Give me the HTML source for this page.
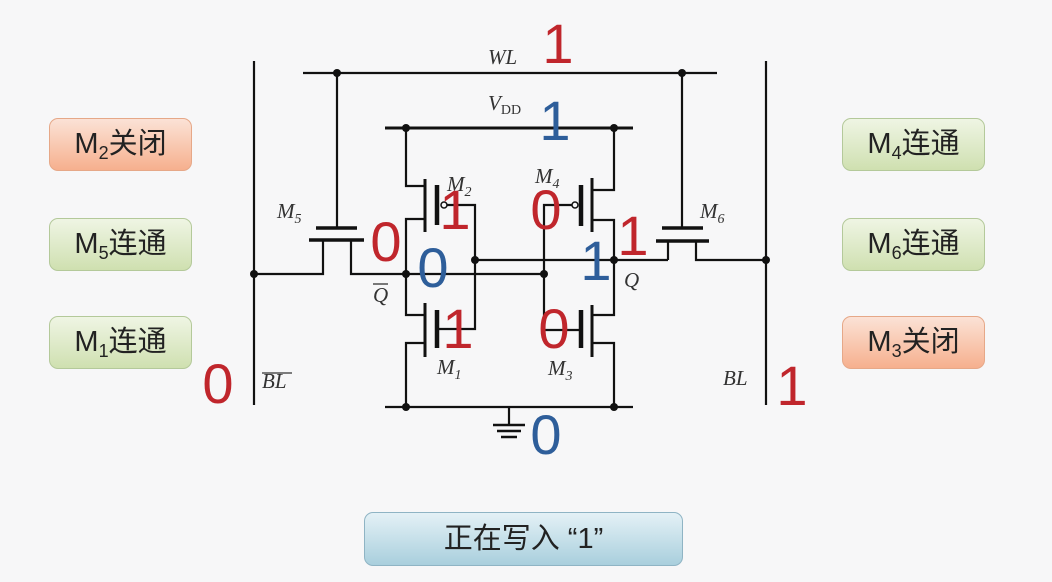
<!DOCTYPE html>
<html><head><meta charset="utf-8"><style>
html,body{margin:0;padding:0;background:#f7f7f8;}
body{width:1052px;height:582px;position:relative;overflow:hidden;font-family:"Liberation Sans","Noto Sans CJK SC",sans-serif;}
.b{position:absolute;width:143px;height:53px;border-radius:9px;box-sizing:border-box;font-size:29px;line-height:51px;text-align:center;color:#222;}
.g{background:linear-gradient(#eff5e4,#cfe0b0);border:1px solid #b4c99a;}
.o{background:linear-gradient(#fbe2d6,#f6b08e);border:1px solid #e6a888;}
.b sub{font-size:18px;vertical-align:-6px;}
.btn{position:absolute;left:364px;top:512px;width:319px;height:54px;border-radius:9px;box-sizing:border-box;border:1px solid #8fb4c4;background:linear-gradient(#e4f1f6,#a9cfdd);font-size:29px;line-height:52px;text-align:center;color:#222;}
svg{position:absolute;left:0;top:0;}
</style></head><body>
<svg width="1052" height="582" viewBox="0 0 1052 582">
<g stroke="#111" stroke-width="2.2" fill="none">
<line x1="254" y1="61" x2="254" y2="405"/>
<line x1="766" y1="61" x2="766" y2="405"/>
<line x1="303" y1="73" x2="717" y2="73"/>
<line x1="385" y1="128" x2="633" y2="128" stroke-width="3"/>
<line x1="385" y1="407" x2="633" y2="407"/>
<line x1="337" y1="73" x2="337" y2="228"/>
<line x1="316" y1="228" x2="357" y2="228" stroke-width="3.5"/>
<line x1="309" y1="240" x2="364" y2="240" stroke-width="3.5"/>
<polyline points="254,274 323,274 323,240"/>
<polyline points="351,240 351,274 544,274"/>
<polyline points="406,128 406,186 425,186"/>
<polyline points="425,219 406,219 406,315 425,315"/>
<polyline points="425,343 406,343 406,407"/>
<line x1="425" y1="179" x2="425" y2="232" stroke-width="3"/>
<line x1="425" y1="303" x2="425" y2="357" stroke-width="3"/>
<line x1="437" y1="185" x2="437" y2="225" stroke-width="4.5"/>
<line x1="437" y1="310" x2="437" y2="348" stroke-width="4.5"/>
<circle cx="444" cy="205" r="3" stroke-width="1.5"/>
<polyline points="447,205 475,205 475,329 439,329"/>
<line x1="475" y1="260" x2="668" y2="260"/>
<polyline points="614,128 614,190 592,190"/>
<polyline points="592,220 614,220 614,315 592,315"/>
<polyline points="592,343 614,343 614,407"/>
<line x1="592" y1="178" x2="592" y2="232" stroke-width="3"/>
<line x1="592" y1="305" x2="592" y2="357" stroke-width="3"/>
<line x1="581" y1="185" x2="581" y2="226" stroke-width="4.5"/>
<line x1="581" y1="310" x2="581" y2="348" stroke-width="4.5"/>
<circle cx="575" cy="205" r="3" stroke-width="1.5"/>
<polyline points="572,205 544,205 544,330 579,330"/>
<line x1="682" y1="73" x2="682" y2="228"/>
<line x1="662" y1="228" x2="703" y2="228" stroke-width="3.5"/>
<line x1="656" y1="241" x2="709" y2="241" stroke-width="3.5"/>
<polyline points="668,260 668,241"/>
<polyline points="696,241 696,260 766,260"/>
<line x1="509" y1="407" x2="509" y2="425"/>
<line x1="493" y1="425" x2="525" y2="425" stroke-width="2.5"/>
<line x1="497" y1="431" x2="521" y2="431" stroke-width="2.5"/>
<line x1="501" y1="437" x2="517" y2="437" stroke-width="2.5"/>
</g>
<g fill="#111">
<circle cx="337" cy="73" r="4"/><circle cx="682" cy="73" r="4"/>
<circle cx="406" cy="128" r="4"/><circle cx="614" cy="128" r="4"/>
<circle cx="406" cy="407" r="4"/><circle cx="614" cy="407" r="4"/>
<circle cx="254" cy="274" r="4"/><circle cx="766" cy="260" r="4"/>
<circle cx="406" cy="274" r="4"/><circle cx="614" cy="260" r="4"/>
<circle cx="475" cy="260" r="4"/><circle cx="544" cy="274" r="4"/>
</g>
<g font-family="Liberation Serif, serif" font-style="italic" font-size="21" fill="#333">
<text x="488" y="64">WL</text>
<text x="488" y="110">V<tspan font-size="14" font-style="normal" dy="4">DD</tspan></text>
<text x="277" y="218">M<tspan font-size="14" dy="5">5</tspan></text>
<text x="447" y="191">M<tspan font-size="14" dy="5">2</tspan></text>
<text x="535" y="183">M<tspan font-size="14" dy="5">4</tspan></text>
<text x="700" y="218">M<tspan font-size="14" dy="5">6</tspan></text>
<text x="437" y="374">M<tspan font-size="14" dy="5">1</tspan></text>
<text x="548" y="375">M<tspan font-size="14" dy="5">3</tspan></text>
<text x="373" y="302">Q</text>
<line x1="373" y1="284" x2="388" y2="284" stroke="#333" stroke-width="1.3"/>
<text x="624" y="287">Q</text>
<text x="262" y="388">BL</text>
<line x1="262" y1="373" x2="292" y2="373" stroke="#333" stroke-width="1.3"/>
<text x="723" y="385">BL</text>
</g>
<g font-family="Liberation Sans, sans-serif" font-size="56" text-anchor="middle">
<g fill="#c0262c">
<text x="558" y="63">1</text>
<text x="386" y="261">0</text>
<text x="455" y="229">1</text>
<text x="458" y="348">1</text>
<text x="546" y="229">0</text>
<text x="554" y="348">0</text>
<text x="633" y="255">1</text>
<text x="218" y="403">0</text>
<text x="792" y="405">1</text>
</g>
<g fill="#2e5e9a">
<text x="555" y="140">1</text>
<text x="433" y="287">0</text>
<text x="596" y="280">1</text>
<text x="546" y="454">0</text>
</g>
</g>
</svg>
<div class="b o" style="left:49px;top:118px">M<sub>2</sub>关闭</div>
<div class="b g" style="left:49px;top:218px">M<sub>5</sub>连通</div>
<div class="b g" style="left:49px;top:316px">M<sub>1</sub>连通</div>
<div class="b g" style="left:842px;top:118px">M<sub>4</sub>连通</div>
<div class="b g" style="left:842px;top:218px">M<sub>6</sub>连通</div>
<div class="b o" style="left:842px;top:316px">M<sub>3</sub>关闭</div>
<div class="btn">正在写入 “1”</div>
</body></html>
